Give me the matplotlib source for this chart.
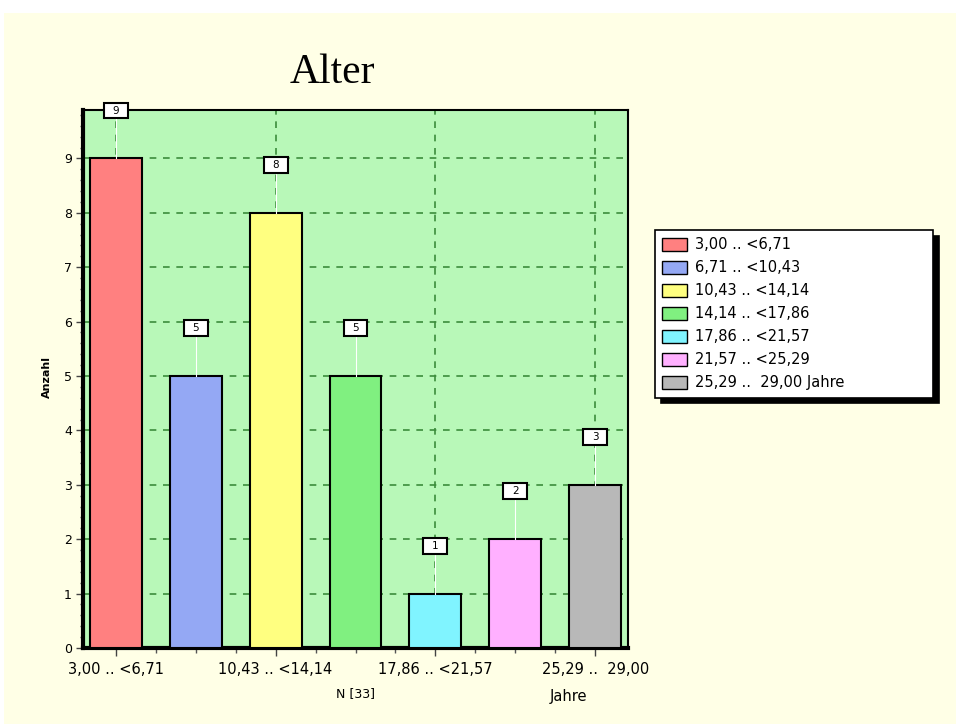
import matplotlib.pyplot as plt
import numpy as np
from matplotlib.patches import Patch, Rectangle

# Altersklassen (Jahre) und Anzahl
klassen = ["3,00 .. <6,71", "6,71 .. <10,43", "10,43 .. <14,14", "14,14 .. <17,86",
           "17,86 .. <21,57", "21,57 .. <25,29", "25,29 ..  29,00 Jahre"]
xlabels = ["3,00 .. <6,71", "10,43 .. <14,14", "17,86 .. <21,57", "25,29 ..  29,00"]
anzahl = [9, 5, 8, 5, 1, 2, 3]
farben = ["#ff8080", "#94a8f4", "#ffff80", "#80f080", "#80f4ff", "#ffb0ff", "#b8b8b8"]

bg = "#ffffe6"
plt.rcParams["font.family"] = ["DejaVu Sans"]

fig = plt.figure(figsize=(9.56, 7.24), dpi=100, facecolor=bg)
# weisser Rand oben / links
fig.patches.append(Rectangle((0, 1 - 13 / 724), 1, 13 / 724, transform=fig.transFigure,
                             facecolor="white", edgecolor="none", zorder=0))
fig.patches.append(Rectangle((0, 0), 4 / 956, 1, transform=fig.transFigure,
                             facecolor="white", edgecolor="none", zorder=0))

ax = fig.add_axes([83 / 956, 1 - 648 / 724, 545 / 956, 538 / 724])
ax.set_facecolor("#b8f8b8")

x = np.arange(len(anzahl))
ax.bar(x, anzahl, 0.65, color=farben, edgecolor="black", linewidth=1.5, zorder=3)

# Wertelabels in Kaestchen mit weisser Hinweislinie
for xi, v in zip(x, anzahl):
    ax.plot([xi, xi], [v, v + 0.74], color="white", lw=0.8, zorder=4)
    ax.add_patch(Rectangle((xi - 0.15, v + 0.735), 0.3, 0.29, facecolor="white",
                           edgecolor="black", lw=1.5, zorder=5, clip_on=False))
    ax.text(xi, v + 0.88, str(v), ha="center", va="center", fontsize=7.5, zorder=6,
            clip_on=False)

ax.set_yticks(range(0, 10))
ax.set_yticks(np.arange(0, 9.9, 0.2), minor=True)
ax.set_xticks([0, 2, 4, 6])
ax.set_xticklabels(xlabels)
ax.set_xticks(np.arange(-0.5, 6.6, 0.5), minor=True)
ax.set_xlim(-0.41, 6.41)
ax.set_ylim(0, 9.89)

ax.tick_params(axis="x", which="major", length=6, width=1, labelsize=10.5, pad=4, color="#444444")
ax.tick_params(axis="x", which="minor", length=3.5, width=1, color="#555555")
ax.tick_params(axis="y", which="major", length=5, width=1, labelsize=9, pad=3, color="#444444")
ax.tick_params(axis="y", which="minor", length=2.5, width=1, color="#555555")

for yi in range(1, 10):
    ax.axhline(yi, color="#3c8c3c", lw=1.2, ls=(0, (4, 4)), zorder=1)
for xi in [0, 2, 4, 6]:
    ax.axvline(xi, color="#3c8c3c", lw=1.2, ls=(0, (4, 4)), zorder=1)

ax.spines["left"].set_linewidth(3)
ax.spines["bottom"].set_linewidth(3)
ax.spines["top"].set_linewidth(1.5)
ax.spines["right"].set_linewidth(1.5)

fig.text(332 / 956, 1 - 83 / 724, "Alter", fontsize=30, family="Liberation Serif",
         ha="center", va="baseline")
fig.text(47 / 956, 1 - 377 / 724, "Anzahl", fontsize=8, fontweight="bold", rotation=90,
         ha="center", va="center")
fig.text(355 / 956, 1 - 694 / 724, "N [33]", fontsize=9, ha="center", va="center")
fig.text(568 / 956, 1 - 697 / 724, "Jahre", fontsize=10.5, ha="center", va="center")

handles = [Patch(facecolor=c, edgecolor="black", lw=1) for c in farben]
leg = fig.legend(handles, klassen, loc="upper left", mode="expand",
                 bbox_to_anchor=(655 / 956, 1 - 400 / 724, 278 / 956, 170 / 724),
                 bbox_transform=fig.transFigure, borderaxespad=0, fancybox=False,
                 framealpha=1, edgecolor="black", fontsize=10.5, handlelength=1.7,
                 handleheight=0.95, handletextpad=0.55, labelspacing=0.55,
                 borderpad=0.5, shadow={"color": "black", "alpha": 1, "ox": 4, "oy": -4})
leg.get_frame().set_linewidth(1.2)

fig.savefig("out.png", dpi=100, facecolor=bg)
